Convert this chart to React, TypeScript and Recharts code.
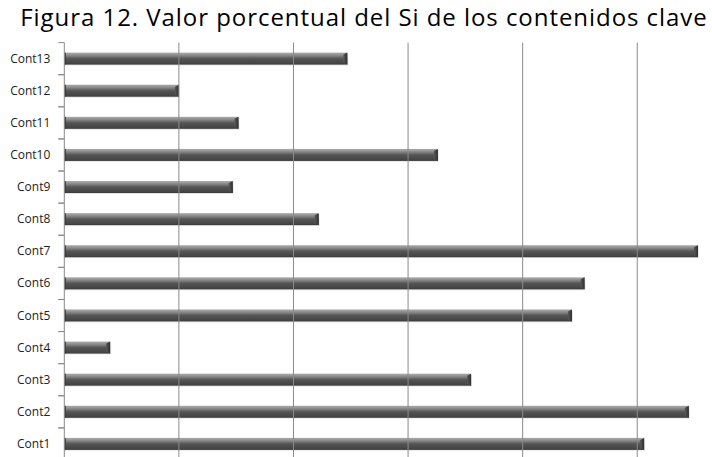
import React from 'react';
import { BarChart, Bar, XAxis, YAxis, ReferenceLine } from 'recharts';

const categories = ['Cont1', 'Cont2', 'Cont3', 'Cont4', 'Cont5', 'Cont6', 'Cont7', 'Cont8', 'Cont9', 'Cont10', 'Cont11', 'Cont12', 'Cont13'];
const values = [50.6, 54.5, 35.5, 4.0, 44.3, 45.4, 55.3, 22.2, 14.7, 32.6, 15.2, 10.0, 24.7];
const xTicks = [0, 10, 20, 30, 40, 50];
const title = 'Figura 12. Valor porcentual del Si de los contenidos clave';

const data = categories.map((c, i) => ({ name: c, value: values[i] }));

const CatTick = (props: any) => {
  const { x, y, payload } = props;
  const off = payload && typeof payload.offset === 'number' ? payload.offset : 16;
  const axisX = x + 14;
  return (
    <g>
      <line x1={axisX - 6} x2={axisX} y1={y - off} y2={y - off} stroke="#8a8a8a" strokeWidth={1} />
      <line x1={axisX - 6} x2={axisX} y1={y + off} y2={y + off} stroke="#8a8a8a" strokeWidth={1} />
      <text x={x} y={y} dy={4} textAnchor="end" fontSize={12} fill="#222" fontFamily="Open Sans">
        {payload.value}
      </text>
    </g>
  );
};

const BarShape = (props: any) => {
  const { x, y, width, height } = props;
  if (!width || width <= 0) return null;
  const bev = Math.min(4, width / 2);
  return (
    <g>
      <rect x={x} y={y + 1} width={width + 1} height={height} fill="#d8d8d8" opacity={0.6} />
      <rect x={x} y={y} width={width} height={height} fill="url(#barGrad)" />
      <polygon
        points={`${x + width - bev},${y + 2} ${x + width},${y} ${x + width},${y + height} ${x + width - bev},${y + height - 2}`}
        fill="url(#endGrad)"
      />
      <rect x={x} y={y} width={1.5} height={height} fill="#3a3a3a" />
    </g>
  );
};

export default function App() {
  return (
    <div style={{ position: 'absolute', left: 0, top: 0, width: 712, height: 457, overflow: 'hidden', background: '#fff' }}>
      <div
        style={{
          position: 'absolute',
          left: 0,
          top: 0,
          width: 712,
          textAlign: 'center',
          fontFamily: 'Open Sans',
          fontSize: 24,
          letterSpacing: 0.95,
          color: '#000',
          whiteSpace: 'nowrap',
          paddingLeft: 16,
          boxSizing: 'border-box',
        }}
      >
        {title}
      </div>
      <BarChart
        width={712}
        height={470}
        data={data}
        layout="vertical"
        margin={{ top: 42.6, right: 6, bottom: 10, left: 0 }}
        barSize={12}
      >
        <defs>
          <linearGradient id="barGrad" x1="0" y1="0" x2="0" y2="1">
            <stop offset="0%" stopColor="#a8a8a8" />
            <stop offset="12%" stopColor="#9c9c9c" />
            <stop offset="30%" stopColor="#7c7c7c" />
            <stop offset="50%" stopColor="#555555" />
            <stop offset="90%" stopColor="#444444" />
            <stop offset="100%" stopColor="#383838" />
          </linearGradient>
          <linearGradient id="endGrad" x1="0" y1="0" x2="1" y2="0">
            <stop offset="0%" stopColor="#5a5a5a" />
            <stop offset="100%" stopColor="#2e2e2e" />
          </linearGradient>
        </defs>
        <XAxis
          type="number"
          domain={[0, 56]}
          ticks={xTicks}
          tick={false}
          tickLine={false}
          axisLine={false}
          height={0}
          allowDataOverflow
        />
        <YAxis
          type="category"
          dataKey="name"
          reversed
          width={64.3}
          tickLine={false}
          tickSize={6}
          tickMargin={8}
          axisLine={{ stroke: '#8a8a8a' }}
          tick={<CatTick />}
          interval={0}
        />
        {xTicks.filter((t) => t > 0).map((t) => (
          <ReferenceLine key={t} x={t} stroke="#8a8a8a" strokeWidth={1} />
        ))}
        <Bar dataKey="value" shape={<BarShape />} isAnimationActive={false} />
      </BarChart>
    </div>
  );
}
